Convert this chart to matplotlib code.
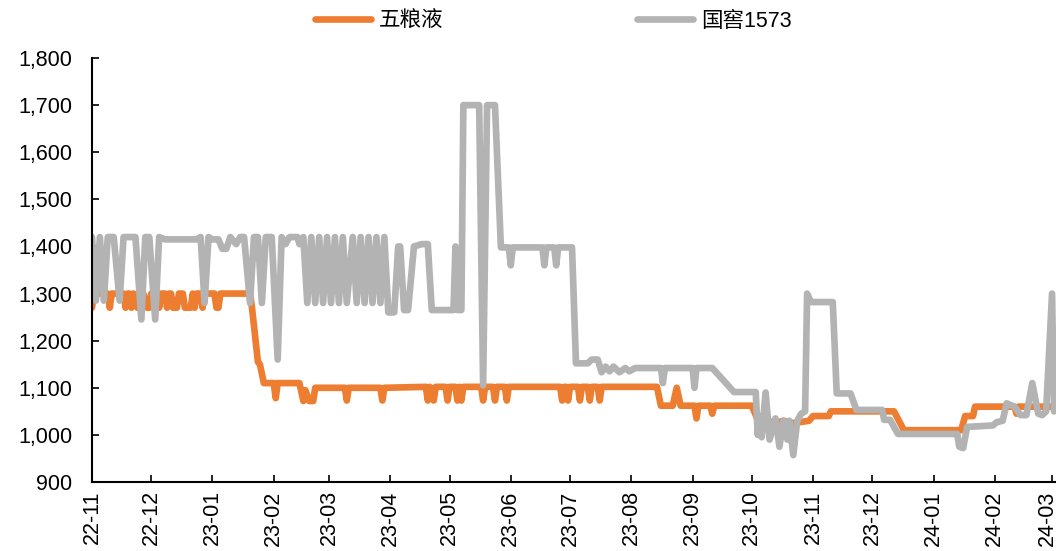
import matplotlib
matplotlib.use("Agg")
import matplotlib.pyplot as plt
import matplotlib.dates as mdates
import matplotlib.transforms as mtransforms
from matplotlib.ticker import StrMethodFormatter
import pandas as pd

plt.rcParams['font.family'] = ['Liberation Sans', 'Noto Sans CJK SC', 'DejaVu Sans']

# 五粮液
wly_dates = ['2022-11-01', '2022-11-02', '2022-11-09', '2022-11-10', '2022-11-11', '2022-11-17', '2022-11-18',
             '2022-11-19', '2022-11-20', '2022-11-21', '2022-11-22', '2022-11-24', '2022-11-25', '2022-11-26',
             '2022-11-27', '2022-11-29', '2022-11-30', '2022-12-01', '2022-12-02', '2022-12-03', '2022-12-04',
             '2022-12-05', '2022-12-06', '2022-12-08', '2022-12-09', '2022-12-10', '2022-12-11', '2022-12-12',
             '2022-12-14', '2022-12-15', '2022-12-17', '2022-12-18', '2022-12-21', '2022-12-22', '2022-12-23',
             '2022-12-24', '2022-12-26', '2022-12-27', '2022-12-28', '2023-01-02', '2023-01-03', '2023-01-04',
             '2023-01-05', '2023-01-20', '2023-01-21', '2023-01-24', '2023-01-25', '2023-01-27', '2023-02-01',
             '2023-02-02', '2023-02-03', '2023-02-14', '2023-02-16', '2023-02-17', '2023-02-19', '2023-02-21',
             '2023-02-22', '2023-03-09', '2023-03-10', '2023-03-11', '2023-03-27', '2023-03-28', '2023-03-29',
             '2023-04-19', '2023-04-20', '2023-04-21', '2023-04-23', '2023-04-24', '2023-04-29', '2023-04-30',
             '2023-05-01', '2023-05-04', '2023-05-05', '2023-05-06', '2023-05-07', '2023-05-08', '2023-05-17',
             '2023-05-18', '2023-05-19', '2023-05-23', '2023-05-24', '2023-05-25', '2023-05-29', '2023-05-30',
             '2023-05-31', '2023-06-26', '2023-06-27', '2023-06-28', '2023-06-29', '2023-06-30', '2023-07-01',
             '2023-07-05', '2023-07-06', '2023-07-07', '2023-07-10', '2023-07-11', '2023-07-12', '2023-07-15',
             '2023-07-16', '2023-07-17', '2023-08-14', '2023-08-16', '2023-08-22', '2023-08-24', '2023-08-26',
             '2023-09-02', '2023-09-03', '2023-09-04', '2023-09-10', '2023-09-11', '2023-09-12', '2023-10-01',
             '2023-10-05', '2023-10-09', '2023-10-13', '2023-10-17', '2023-10-22', '2023-10-30', '2023-11-01',
             '2023-11-09', '2023-11-10', '2023-12-12', '2023-12-17', '2024-01-15', '2024-01-17', '2024-01-21',
             '2024-01-22', '2024-02-11', '2024-02-12', '2024-02-13', '2024-03-03']
wly_vals = [1270, 1300, 1300, 1270, 1300, 1300, 1270,
            1300, 1300, 1270, 1300, 1270, 1300, 1270,
            1300, 1270, 1270, 1300, 1270, 1300, 1300,
            1270, 1300, 1300, 1270, 1300, 1300, 1270,
            1270, 1300, 1300, 1270, 1270, 1300, 1270,
            1300, 1300, 1270, 1300, 1300, 1270, 1270,
            1300, 1300, 1270, 1155, 1150, 1110, 1110,
            1078, 1110, 1110, 1072, 1095, 1072, 1072,
            1100, 1100, 1073, 1100, 1100, 1073, 1100,
            1102, 1073, 1102, 1073, 1102, 1102, 1073,
            1102, 1102, 1073, 1102, 1073, 1102, 1102,
            1073, 1102, 1102, 1073, 1102, 1102, 1073,
            1102, 1102, 1073, 1102, 1102, 1073, 1102,
            1102, 1073, 1102, 1102, 1073, 1102, 1102,
            1073, 1102, 1102, 1062, 1062, 1100, 1062,
            1062, 1035, 1062, 1062, 1045, 1062, 1062,
            1022, 1030, 1025, 1030, 1025, 1030, 1040,
            1040, 1050, 1050, 1010, 1010, 1040, 1040,
            1060, 1060, 1045, 1060, 1060]

# 国窖1573
gj_dates = ['2022-11-01', '2022-11-03', '2022-11-05', '2022-11-07', '2022-11-09', '2022-11-12', '2022-11-15',
            '2022-11-17', '2022-11-23', '2022-11-26', '2022-11-28', '2022-11-30', '2022-12-03', '2022-12-05',
            '2022-12-08', '2022-12-24', '2022-12-26', '2022-12-28', '2022-12-30', '2023-01-01', '2023-01-04',
            '2023-01-06', '2023-01-08', '2023-01-10', '2023-01-13', '2023-01-15', '2023-01-17', '2023-01-20',
            '2023-01-22', '2023-01-24', '2023-01-26', '2023-01-28', '2023-01-31', '2023-02-03', '2023-02-05',
            '2023-02-07', '2023-02-09', '2023-02-13', '2023-02-14', '2023-02-16', '2023-02-18', '2023-02-20',
            '2023-02-22', '2023-02-24', '2023-02-26', '2023-02-28', '2023-03-02', '2023-03-04', '2023-03-06',
            '2023-03-08', '2023-03-10', '2023-03-13', '2023-03-15', '2023-03-17', '2023-03-19', '2023-03-21',
            '2023-03-23', '2023-03-25', '2023-03-27', '2023-03-29', '2023-03-31', '2023-04-03', '2023-04-05',
            '2023-04-06', '2023-04-08', '2023-04-10', '2023-04-13', '2023-04-17', '2023-04-20', '2023-04-22',
            '2023-05-03', '2023-05-04', '2023-05-05', '2023-05-07', '2023-05-08', '2023-05-16', '2023-05-18',
            '2023-05-20', '2023-05-24', '2023-05-27', '2023-05-31', '2023-06-01', '2023-06-02', '2023-06-17',
            '2023-06-18', '2023-06-19', '2023-06-23', '2023-06-24', '2023-06-25', '2023-07-02', '2023-07-04',
            '2023-07-10', '2023-07-12', '2023-07-15', '2023-07-17', '2023-07-19', '2023-07-21', '2023-07-23',
            '2023-07-26', '2023-07-29', '2023-07-31', '2023-08-03', '2023-08-16', '2023-08-17', '2023-08-18',
            '2023-09-01', '2023-09-02', '2023-09-03', '2023-09-11', '2023-09-22', '2023-10-03', '2023-10-04',
            '2023-10-05', '2023-10-06', '2023-10-08', '2023-10-10', '2023-10-13', '2023-10-15', '2023-10-17',
            '2023-10-19', '2023-10-20', '2023-10-22', '2023-10-24', '2023-10-26', '2023-10-28', '2023-10-29',
            '2023-10-31', '2023-11-11', '2023-11-13', '2023-11-20', '2023-11-23', '2023-12-06', '2023-12-07',
            '2023-12-10', '2023-12-14', '2024-01-13', '2024-01-14', '2024-01-16', '2024-01-18', '2024-01-31',
            '2024-02-02', '2024-02-05', '2024-02-07', '2024-02-11', '2024-02-14', '2024-02-17', '2024-02-20',
            '2024-02-23', '2024-02-25', '2024-02-27', '2024-03-01', '2024-03-02']
gj_vals = [1420, 1285, 1420, 1285, 1420, 1420, 1285,
           1420, 1420, 1245, 1420, 1420, 1245, 1420,
           1415, 1415, 1420, 1280, 1420, 1415, 1415,
           1395, 1395, 1420, 1405, 1420, 1420, 1280,
           1420, 1420, 1280, 1420, 1420, 1160, 1420,
           1405, 1420, 1420, 1405, 1420, 1280, 1420,
           1280, 1420, 1280, 1420, 1280, 1420, 1280,
           1420, 1280, 1420, 1280, 1420, 1280, 1420,
           1280, 1420, 1280, 1420, 1260, 1260, 1400,
           1400, 1265, 1265, 1400, 1405, 1405, 1265,
           1265, 1400, 1265, 1265, 1700, 1700, 1105,
           1700, 1700, 1398, 1398, 1360, 1398, 1398,
           1360, 1398, 1398, 1360, 1398, 1398, 1152,
           1152, 1160, 1160, 1133, 1145, 1135, 1145,
           1133, 1142, 1135, 1142, 1142, 1110, 1142,
           1142, 1100, 1142, 1142, 1091, 1091, 1000,
           1040, 995, 1090, 990, 1035, 975, 1030,
           990, 1030, 957, 1030, 1045, 1050, 1300,
           1282, 1282, 1088, 1088, 1053, 1053, 1032,
           1032, 1002, 1002, 975, 972, 1017, 1020,
           1027, 1030, 1067, 1060, 1042, 1042, 1110,
           1045, 1042, 1050, 1300, 1050]

fig = plt.figure(figsize=(10.56, 5.51), dpi=100)
ax = fig.add_axes([0.0871, 0.1252, 0.9129, 0.7695])

ax.plot(pd.to_datetime(wly_dates), wly_vals, color='#ED7D31', linewidth=4.8, label='五粮液',
        solid_joinstyle='round', solid_capstyle='round')
ax.plot(pd.to_datetime(gj_dates), gj_vals, color='#B3B3B3', linewidth=4.8, label='国窖1573',
        solid_joinstyle='round', solid_capstyle='round')

ax.set_ylim(900, 1800)
ax.set_yticks(range(900, 1801, 100))
ax.yaxis.set_major_formatter(StrMethodFormatter('{x:,.0f}'))
ax.set_xlim(pd.Timestamp('2022-11-01'), pd.Timestamp('2024-03-03'))
ax.xaxis.set_major_locator(mdates.MonthLocator())
ax.xaxis.set_major_formatter(mdates.DateFormatter('%y-%m'))

ax.spines['top'].set_visible(False)
ax.spines['right'].set_visible(False)
ax.spines['left'].set_linewidth(1.5)
ax.spines['bottom'].set_linewidth(1.5)
ax.tick_params(axis='both', direction='in', length=5, width=1.2, labelsize=15.5)
ax.tick_params(axis='x', rotation=90, pad=6)
ax.tick_params(axis='y', pad=14)

# last month label sits against the right edge, nudge it in a little
fig.canvas.draw()
last = ax.get_xticklabels()[-1]
last.set_transform(last.get_transform() + mtransforms.ScaledTranslation(-5 / 100, 0, fig.dpi_scale_trans))

fig.legend(loc='upper center', bbox_to_anchor=(0.524, 1.0), ncol=2, frameon=False,
           fontsize=15.5, handlelength=2.6, handletextpad=0.35, columnspacing=9.0,
           borderaxespad=0.1)

fig.savefig('out.png', dpi=100)
